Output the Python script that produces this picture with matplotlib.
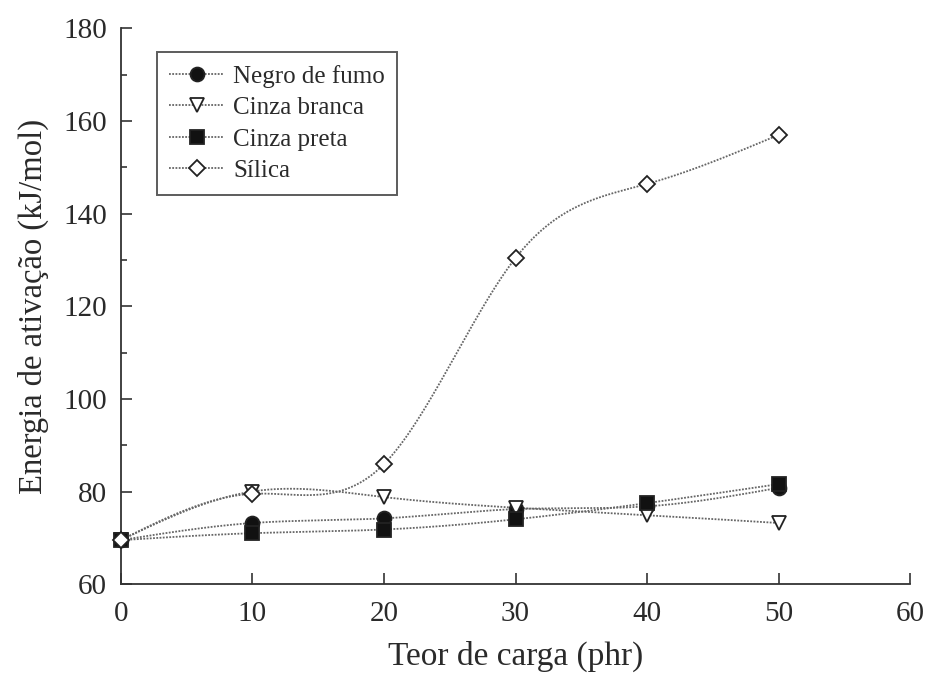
import numpy as np
import matplotlib
matplotlib.use("Agg")
import matplotlib.pyplot as plt
from matplotlib.ticker import MultipleLocator

plt.rcParams['font.family'] = ['Liberation Serif', 'DejaVu Serif']

carga = [0, 10, 20, 30, 40, 50]
negro_de_fumo = [69.5, 73.2, 74.2, 76.2, 76.8, 80.8]
cinza_branca = [69.5, 80.0, 78.8, 76.5, 74.9, 73.2]
cinza_preta = [69.5, 71.0, 71.8, 74.0, 77.5, 81.6]
silica = [69.5, 79.5, 85.9, 130.4, 146.4, 157.0]

def natural_spline(x, y, n=300):
    x = np.asarray(x, float); y = np.asarray(y, float)
    N = len(x); h = np.diff(x)
    A = np.zeros((N, N)); b = np.zeros(N)
    A[0, 0] = 1; A[-1, -1] = 1
    for i in range(1, N - 1):
        A[i, i - 1] = h[i - 1]; A[i, i] = 2 * (h[i - 1] + h[i]); A[i, i + 1] = h[i]
        b[i] = 3 * ((y[i + 1] - y[i]) / h[i] - (y[i] - y[i - 1]) / h[i - 1])
    c = np.linalg.solve(A, b)
    xs = np.linspace(x[0], x[-1], n); ys = np.empty_like(xs)
    for k, xv in enumerate(xs):
        i = min(np.searchsorted(x, xv, side='right') - 1, N - 2)
        dx = xv - x[i]
        bi = (y[i + 1] - y[i]) / h[i] - h[i] * (2 * c[i] + c[i + 1]) / 3
        di = (c[i + 1] - c[i]) / (3 * h[i])
        ys[k] = y[i] + bi * dx + c[i] * dx ** 2 + di * dx ** 3
    return xs, ys

fig = plt.figure(figsize=(9.28, 6.73), dpi=100)
ax = fig.add_axes([0.130, 0.132, 0.851, 0.826])

series = [
    ("Negro de fumo", negro_de_fumo, dict(marker='o', markerfacecolor='#111111')),
    ("Cinza branca", cinza_branca, dict(marker='v', markerfacecolor='white')),
    ("Cinza preta", cinza_preta, dict(marker='s', markerfacecolor='#111111')),
    ("Sílica", silica, dict(marker='D', markerfacecolor='white', markersize=8.5)),
]

lc = '#666666'
handles = []
for name, vals, mk in series:
    xs, ys = natural_spline(carga, vals)
    ax.plot(xs, ys, linestyle=(0, (1, 0.8)), color=lc, lw=1.3, zorder=2)
    kw = dict(markersize=10, markeredgecolor='#222222', markeredgewidth=1.3)
    kw.update(mk)
    ax.plot(carga, vals, linestyle='none', zorder=3, clip_on=False, **kw)
    h, = ax.plot([], [], linestyle=(0, (1, 0.8)), color=lc, lw=1.3, label=name, **kw)
    handles.append(h)

ax.set_xlim(0, 60)
ax.set_ylim(60, 180)
ax.xaxis.set_major_locator(MultipleLocator(10))
ax.yaxis.set_major_locator(MultipleLocator(20))
ax.yaxis.set_minor_locator(MultipleLocator(10))
ax.spines['top'].set_visible(False)
ax.spines['right'].set_visible(False)
for s in ('left', 'bottom'):
    ax.spines[s].set_linewidth(1.3)
    ax.spines[s].set_color('#333333')
ax.tick_params(axis='both', which='major', direction='in', length=8, width=1.2,
               labelsize=21, colors='#333333')
ax.tick_params(axis='x', which='major', pad=12)
ax.tick_params(axis='y', which='major', pad=10)
ax.tick_params(axis='y', which='minor', direction='in', length=4, width=1.2, colors='#333333')
for t in ax.get_xticklabels() + ax.get_yticklabels():
    t.set_color('#2a2a2a')

ax.set_xlabel("Teor de carga (phr)", fontsize=24, color='#2a2a2a', labelpad=10)
ax.set_ylabel("Energia de ativação (kJ/mol)", fontsize=23.5, color='#2a2a2a', labelpad=10)

leg = ax.legend(handles=handles, loc='upper left', bbox_to_anchor=(0.046, 0.957),
                fontsize=18, frameon=True, fancybox=False, edgecolor='#333333',
                handlelength=2.2, borderpad=0.5, labelspacing=0.36, handletextpad=0.35,
                borderaxespad=0)
leg.get_frame().set_linewidth(1.4)
for t in leg.get_texts():
    t.set_color('#2a2a2a')

fig.savefig("out.png", dpi=100)
